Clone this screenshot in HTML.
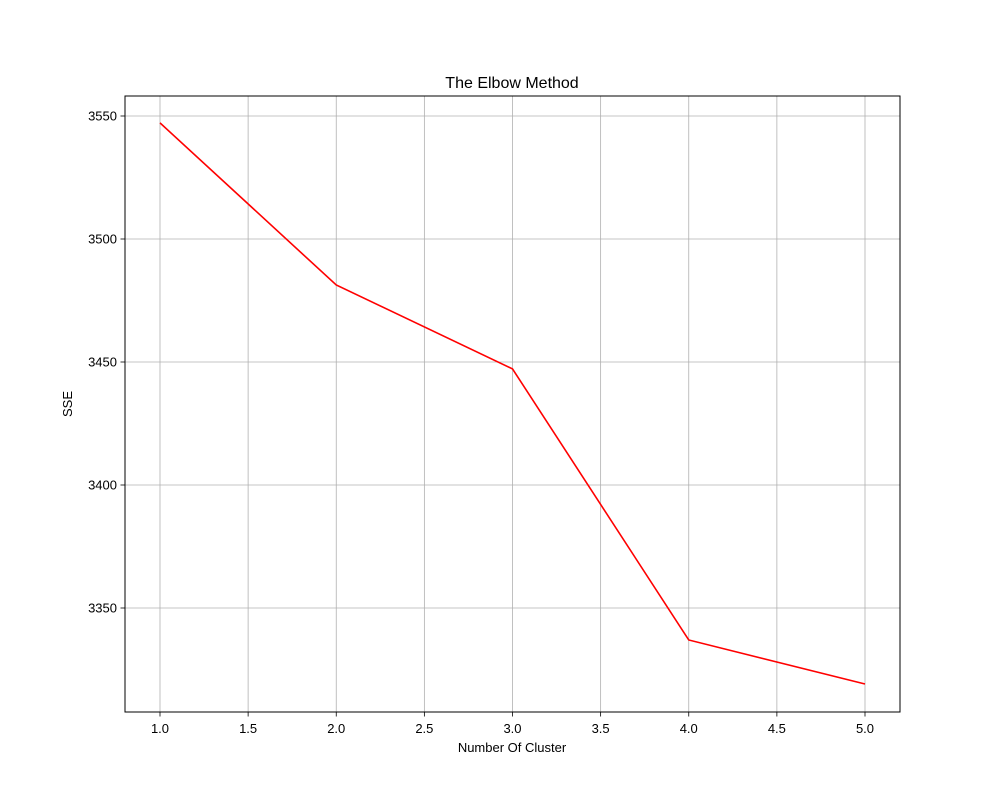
<!DOCTYPE html>
<html><head><meta charset="utf-8"><style>
body{margin:0;background:#fff;}
svg text{font-family:"Liberation Sans","DejaVu Sans",sans-serif;fill:#000;}
</style></head><body>
<svg id="chart" width="1000" height="800" xmlns="http://www.w3.org/2000/svg">
<rect width="1000" height="800" fill="#fff"/>
<g id="grid"></g>
<g id="ticks"></g>
<polyline id="line" fill="none" stroke="#ff0000" stroke-width="1.6"/>
<rect x="125" y="96" width="775" height="616" fill="none" stroke="#000" stroke-width="1"/>
<text x="512" y="88" font-size="16" text-anchor="middle">The Elbow Method</text>
<text x="512" y="752" font-size="13" text-anchor="middle">Number Of Cluster</text>
<text transform="translate(72,404) rotate(-90)" font-size="13" text-anchor="middle">SSE</text>
</svg>
<script>
const clusters=[1,2,3,4,5];
const sse=[3547.2,3481.3,3447.2,3337.0,3319.1];
const xTicks=[1.0,1.5,2.0,2.5,3.0,3.5,4.0,4.5,5.0];
const yTicks=[3350,3400,3450,3500,3550];
const ns="http://www.w3.org/2000/svg";
function sx(v){return 160+(v-1)*176.25;}
function sy(v){return 116+(3550-v)*2.46;}
const grid=document.getElementById('grid'),ticks=document.getElementById('ticks');
function mk(t,a,p){const e=document.createElementNS(ns,t);for(const k in a)e.setAttribute(k,a[k]);p.appendChild(e);return e;}
xTicks.forEach(v=>{const x=sx(v);
 const g=mk('line',{x1:x,x2:x,y1:96,y2:712,stroke:'#b0b0b0','stroke-width':0.8},grid);
 
 
 const t=mk('line',{x1:x,x2:x,y1:712,y2:716.5,stroke:'#000','stroke-width':0.8},ticks);
 
 
 const l=mk('text',{x:x,y:733,'font-size':13,'text-anchor':'middle'},ticks);l.textContent=v.toFixed(1);
 
 
});
yTicks.forEach(v=>{const y=sy(v);
 const g=mk('line',{x1:125,x2:900,y1:y,y2:y,stroke:'#b0b0b0','stroke-width':0.8},grid);
 
 
 const t=mk('line',{x1:120.5,x2:125,y1:y,y2:y,stroke:'#000','stroke-width':0.8},ticks);
 
 
 const l=mk('text',{x:117,y:y+4.5,'font-size':13,'text-anchor':'end'},ticks);l.textContent=v;
 
 
});
document.getElementById('line').setAttribute('points',clusters.map((c,i)=>sx(c)+','+sy(sse[i])).join(' '));
</script>
</body></html>
